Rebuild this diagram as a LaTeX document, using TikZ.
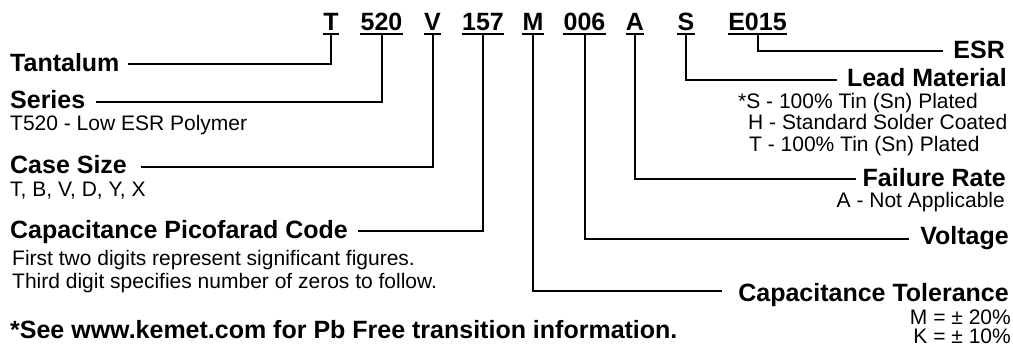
\documentclass[tikz,border=0pt]{standalone}
\usepackage{fontspec}
\setmainfont{Liberation Sans}
\begin{document}
\begin{tikzpicture}[x=1pt,y=-1pt,
  code/.style={font=\bfseries\fontsize{25}{30}\selectfont, inner sep=0pt, text depth=3.5pt, anchor=base},
  blab/.style={font=\bfseries\fontsize{25}{30}\selectfont, inner sep=0pt},
  rlab/.style={font=\fontsize{21}{25}\selectfont, inner sep=0pt},
  uline/.style={line width=2pt},
  conn/.style={line width=2pt}]
\useasboundingbox (0,0) rectangle (1013,346);
% part number
\node[code] (cT) at (331,30) {T};
\node[code] (c520) at (381.5,30) {520};
\node[code] (cV) at (432.5,30) {V};
\node[code] (c157) at (483,30) {157};
\node[code] (cM) at (533,30) {M};
\node[code] (c006) at (584.5,30) {006};
\node[code] (cA) at (635,30) {A};
\node[code] (cS) at (686,30) {S};
\node[code] (cE) at (757.5,30) {E015};
\foreach \n in {cT,c520,cV,c157,cM,c006,cA,cS,cE}
  \draw[uline] (\n.south west) -- (\n.south east);
% left labels
\node[blab, anchor=base west] (tant) at (10,71) {Tantalum};
\node[blab, anchor=base west] (ser) at (10,108) {Series};
\node[rlab, anchor=base west] (serd) at (10,130) {T520 - Low ESR Polymer};
\node[blab, anchor=base west] (case) at (10,173) {Case Size};
\node[rlab, anchor=base west] (cased) at (10,196) {T, B, V, D, Y, X};
\node[blab, anchor=base west] (cap) at (10,238) {Capacitance Picofarad Code};
\node[rlab, anchor=base west] (capd1) at (12,265) {First two digits represent significant figures.};
\node[rlab, anchor=base west] (capd2) at (12,288) {Third digit specifies number of zeros to follow.};
\node[blab, anchor=base west] (note) at (10,338) {*See www.kemet.com for Pb Free transition information.};
% right labels
\node[blab, anchor=base east] (esr) at (1005,58.5) {ESR};
\node[blab, anchor=base east] (lead) at (1007,86) {Lead Material};
\node[rlab, anchor=base west] (lead1) at (738,108) {*S - 100\% Tin (Sn) Plated};
\node[rlab, anchor=base west] (lead2) at (748,129.5) {H - Standard Solder Coated};
\node[rlab, anchor=base west] (lead3) at (749,151) {T - 100\% Tin (Sn) Plated};
\node[blab, anchor=base east] (fail) at (1006,186.5) {Failure Rate};
\node[rlab, anchor=base east] (faild) at (1005,207.5) {A - Not Applicable};
\node[blab, anchor=base east] (volt) at (1009,244.5) {Voltage};
\node[blab, anchor=base east] (tol) at (1009,301) {Capacitance Tolerance};
\node[rlab, anchor=base east] (tol1) at (1011,324) {M = ± 20\%};
\node[rlab, anchor=base east] (tol2) at (1011,343) {K = ± 10\%};
% connectors
\draw[conn] (cT.south) |- ([xshift=8pt,yshift=6.7pt]tant.base east);
\draw[conn] (c520.south) |- ([xshift=11pt,yshift=6.5pt]ser.base east);
\draw[conn] (cV.south) |- ([xshift=14pt,yshift=6.3pt]case.base east);
\draw[conn] (c157.south) |- ([xshift=10pt,yshift=6.7pt]cap.base east);
\draw[conn] (cM.south) |- ([xshift=-16pt,yshift=10pt]tol.base west);
\draw[conn] (c006.south) |- ([xshift=-11pt,yshift=6pt]volt.base west);
\draw[conn] (cA.south) |- ([xshift=-7pt,yshift=7.5pt]fail.base west);
\draw[conn] (cS.south) |- ([xshift=-10pt,yshift=6.5pt]lead.base west);
\draw[conn] (cE.south) |- ([xshift=-10.5pt,yshift=8pt]esr.base west);
\end{tikzpicture}
\end{document}
